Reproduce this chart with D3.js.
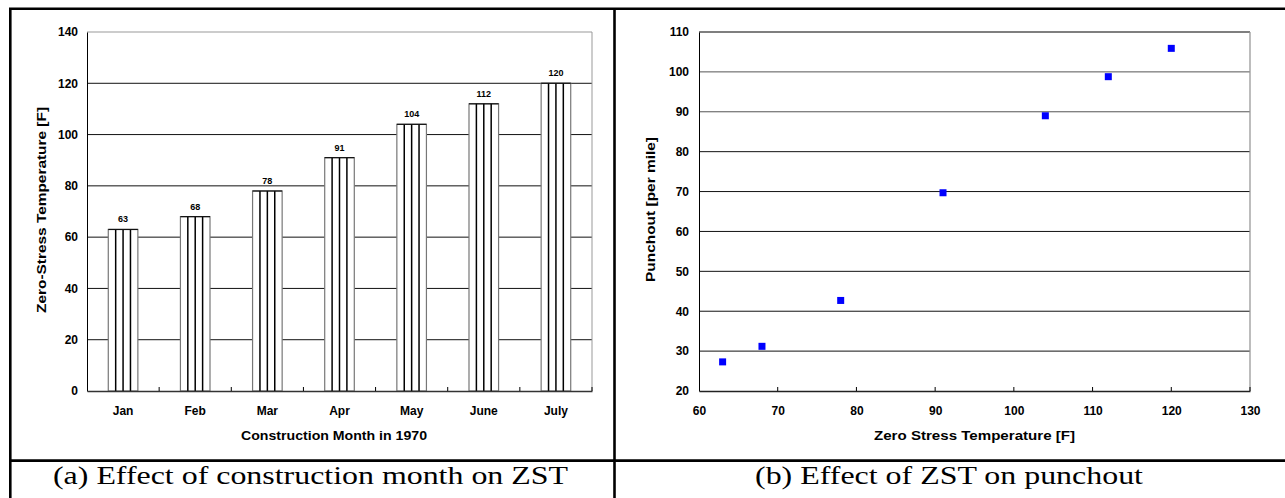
<!doctype html>
<html>
<head>
<meta charset="UTF-8">
<title>ZST charts</title>
<script src="https://d3js.org/d3.v7.min.js"></script>
<style>
    body { margin: 0; background: #fff; }
    svg { display: block; }
    .tick text { font-family: "Liberation Sans", Arial, sans-serif; font-weight: bold; }
</style>
</head>
<body>
<script>
    // data
    var months = ['Jan', 'Feb', 'Mar', 'Apr', 'May', 'June', 'July'];
    var zst = [63, 68, 78, 91, 104, 112, 120];
    var punchout = [27.3, 31.2, 42.7, 69.7, 89.0, 98.8, 105.9];
    var leftTicks = [0, 20, 40, 60, 80, 100, 120, 140];
    var rightYTicks = [20, 30, 40, 50, 60, 70, 80, 90, 100, 110];
    var rightXTicks = [60, 70, 80, 90, 100, 110, 120, 130];
    var captions = ['(a) Effect of construction month on ZST', '(b) Effect of ZST on punchout'];

    var width = 1285, height = 498;
    var font = '"Liberation Sans", Arial, sans-serif';

    var svg = d3.select('body').append('svg')
        .attr('width', width)
        .attr('height', height);

    // small helper for the bold titles (stretched like the original)
    function title(g, txt, x, y, len, rotate) {
        var t = g.append('text')
            .attr('text-anchor', 'middle')
            .attr('font-family', font).attr('font-weight', 'bold').attr('font-size', 13)
            .attr('textLength', len).attr('lengthAdjust', 'spacingAndGlyphs')
            .text(txt);
        if (rotate) t.attr('transform', 'translate(' + x + ',' + y + ') rotate(-90)');
        else t.attr('x', x).attr('y', y);
        return t;
    }

    // ---------- left chart: bars ----------
    var L = {left: 87, right: 592, top: 32, bottom: 391};

    var x1 = d3.scaleBand().domain(months).range([L.left, L.right]);
    var y1 = d3.scaleLinear().domain([0, 140]).range([L.bottom, L.top]);

    var g1 = svg.append('g');

    // gridlines
    g1.selectAll('line.grid').data(leftTicks.slice(1)).enter().append('line')
        .attr('x1', L.left).attr('x2', L.right)
        .attr('y1', function(d){ return y1(d); })
        .attr('y2', function(d){ return y1(d); })
        .attr('stroke', function(d){ return d == 140 ? '#999' : '#111'; })
        .attr('stroke-width', 1);
    g1.append('line')
        .attr('x1', L.right).attr('x2', L.right)
        .attr('y1', L.top).attr('y2', L.bottom)
        .attr('stroke', '#999');

    var barW = x1.bandwidth() * 0.41;
    var bars = g1.selectAll('g.bar').data(months).enter().append('g');

    bars.append('rect')
        .attr('x', function(d){ return x1(d) + (x1.bandwidth() - barW) / 2; })
        .attr('y', function(d, i){ return y1(zst[i]); })
        .attr('width', barW)
        .attr('height', function(d, i){ return L.bottom - y1(zst[i]); })
        .attr('fill', '#fff')
        .attr('stroke', '#777')
        .attr('stroke-width', 1.2);

    // vertical hatch inside each bar
    bars.each(function(d, i){
        var bx = x1(d) + (x1.bandwidth() - barW) / 2;
        var sel = d3.select(this);
        [0.25, 0.5, 0.75].forEach(function(f){
            sel.append('line')
                .attr('x1', bx + barW * f).attr('x2', bx + barW * f)
                .attr('y1', y1(zst[i])).attr('y2', L.bottom)
                .attr('stroke', '#000')
                .attr('stroke-width', 1.5);
        });
        sel.append('line')
            .attr('x1', bx).attr('x2', bx + barW)
            .attr('y1', y1(zst[i])).attr('y2', y1(zst[i]))
            .attr('stroke', '#111').attr('stroke-width', 1.2);
    });

    bars.append('text')
        .attr('x', function(d){ return x1(d) + x1.bandwidth() / 2; })
        .attr('y', function(d, i){ return y1(zst[i]) - 7; })
        .attr('text-anchor', 'middle')
        .attr('font-family', font)
        .attr('font-weight', 'bold')
        .attr('font-size', 9)
        .text(function(d, i){ return zst[i]; });

    // axes
    var yAxis1 = g1.append('g')
        .attr('transform', 'translate(' + L.left + ',0)')
        .call(d3.axisLeft(y1).tickValues(leftTicks).tickSize(0).tickPadding(9));
    yAxis1.select('.domain').attr('stroke', '#000');
    yAxis1.selectAll('text').attr('font-size', 12).attr('fill', '#000');

    var xAxis1 = g1.append('g')
        .attr('transform', 'translate(0,' + L.bottom + ')')
        .call(d3.axisBottom(x1).tickSize(0).tickPadding(15));
    xAxis1.select('.domain').attr('stroke', '#333').attr('stroke-width', 1.3);
    xAxis1.selectAll('text').attr('font-size', 12).attr('fill', '#000');

    // category boundary ticks (inside, upward)
    g1.selectAll('line.ctick').data(months.slice(1)).enter().append('line')
        .attr('x1', function(d){ return x1(d); })
        .attr('x2', function(d){ return x1(d); })
        .attr('y1', L.bottom).attr('y2', L.bottom - 4)
        .attr('stroke', '#000');
    g1.append('line')
        .attr('x1', L.right).attr('x2', L.right)
        .attr('y1', L.bottom).attr('y2', L.bottom - 4)
        .attr('stroke', '#000');

    title(g1, 'Zero-Stress Temperature [F]', 46, 210, 206, true);
    title(g1, 'Construction Month in 1970', 334, 440, 186, false);

    // ---------- right chart: scatter ----------
    var R = {left: 699, right: 1250, top: 32, bottom: 391};

    var x2 = d3.scaleLinear().domain([60, 130]).range([R.left, R.right]);
    var y2 = d3.scaleLinear().domain([20, 110]).range([R.bottom, R.top]);

    var g2 = svg.append('g');

    g2.selectAll('line.grid').data(rightYTicks.slice(1)).enter().append('line')
        .attr('x1', R.left).attr('x2', R.right)
        .attr('y1', function(d){ return y2(d); })
        .attr('y2', function(d){ return y2(d); })
        .attr('stroke', function(d){ return d >= 90 ? '#555' : '#111'; })
        .attr('stroke-width', function(d){ return d == 110 ? 1.3 : 1; });
    g2.append('line')
        .attr('x1', R.right).attr('x2', R.right)
        .attr('y1', R.top).attr('y2', R.bottom)
        .attr('stroke', '#999').attr('stroke-width', 1.3);

    var yAxis2 = g2.append('g')
        .attr('transform', 'translate(' + R.left + ',0)')
        .call(d3.axisLeft(y2).tickValues(rightYTicks).tickSize(0).tickPadding(10));
    yAxis2.select('.domain').attr('stroke', '#000');
    yAxis2.selectAll('text').attr('font-size', 12).attr('fill', '#000');

    var xAxis2 = g2.append('g')
        .attr('transform', 'translate(0,' + R.bottom + ')')
        .call(d3.axisBottom(x2).tickValues(rightXTicks).tickSize(0).tickPadding(15));
    xAxis2.select('.domain').attr('stroke', '#222').attr('stroke-width', 1.3);
    xAxis2.selectAll('text').attr('font-size', 12).attr('fill', '#000');

    g2.selectAll('line.xtick').data(rightXTicks.slice(1)).enter().append('line')
        .attr('x1', function(d){ return x2(d); })
        .attr('x2', function(d){ return x2(d); })
        .attr('y1', R.bottom).attr('y2', R.bottom - 4)
        .attr('stroke', '#000');

    g2.selectAll('rect.pt').data(zst).enter().append('rect')
        .attr('x', function(d){ return x2(d) - 3.5; })
        .attr('y', function(d, i){ return y2(punchout[i]) - 3.5; })
        .attr('width', 7).attr('height', 7)
        .attr('fill', '#0000ff');

    title(g2, 'Punchout [per mile]', 655, 209.5, 145, true);
    title(g2, 'Zero Stress Temperature [F]', 974.5, 440, 201, false);

    // ---------- table frame and captions ----------
    var frame = svg.append('g').attr('stroke', '#000').attr('stroke-width', 2.6);
    frame.append('line').attr('x1', 9).attr('x2', width).attr('y1', 8.7).attr('y2', 8.7);
    frame.append('line').attr('x1', 10.3).attr('x2', 10.3).attr('y1', 8).attr('y2', height);
    frame.append('line').attr('x1', 614.5).attr('x2', 614.5).attr('y1', 8).attr('y2', height);
    frame.append('line').attr('x1', 9).attr('x2', width).attr('y1', 460.6).attr('y2', 460.6);

    var capX = [310.5, 949], capLen = [515, 388];
    svg.selectAll('text.cap').data(captions).enter().append('text')
        .attr('x', function(d, i){ return capX[i]; })
        .attr('y', 484)
        .attr('text-anchor', 'middle')
        .attr('font-family', '"Liberation Serif", "Times New Roman", serif')
        .attr('font-size', 25)
        .attr('textLength', function(d, i){ return capLen[i]; })
        .attr('lengthAdjust', 'spacingAndGlyphs')
        .text(function(d){ return d; });
</script>
</body>
</html>
